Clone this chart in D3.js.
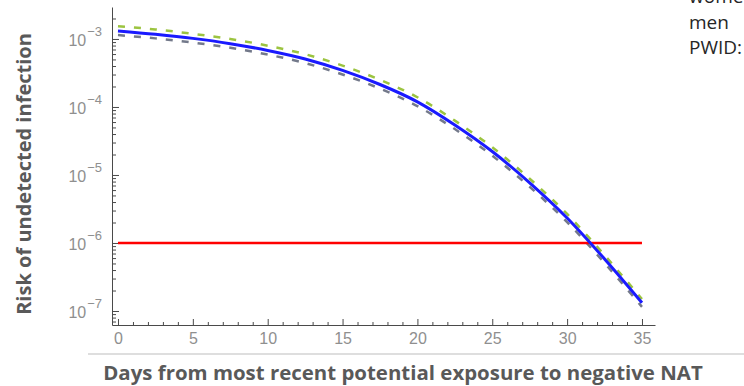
<!DOCTYPE html>
<html>
<head>
<meta charset="utf-8">
<script src="https://cdn.jsdelivr.net/npm/d3@7"></script>
<style>
  html, body { margin: 0; padding: 0; background: #ffffff; }
  svg { display: block; }
</style>
</head>
<body>
<svg id="chart" width="744" height="386"></svg>
<script>
// ---- data ----
const days = [0, 2.5, 5, 7.5, 10, 12.5, 15, 17.5, 20, 22.5, 25, 27.5, 30, 32.5, 35];
const riskMain  = [1.31e-3, 1.17e-3, 1.02e-3, 8.53e-4, 6.78e-4, 5.08e-4, 3.45e-4, 2.14e-4, 1.19e-4, 5.43e-5, 2.21e-5, 7.67e-6, 2.33e-6, 5.82e-7, 1.32e-7];
const riskUpper = [1.54e-3, 1.38e-3, 1.19e-3, 1.00e-3, 7.97e-4, 5.97e-4, 4.05e-4, 2.51e-4, 1.39e-4, 6.30e-5, 2.55e-5, 8.80e-6, 2.67e-6, 6.60e-7, 1.50e-7];
const riskLower = [1.14e-3, 1.02e-3, 8.85e-4, 7.43e-4, 5.90e-4, 4.42e-4, 3.00e-4, 1.86e-4, 1.03e-4, 4.73e-5, 1.92e-5, 6.68e-6, 2.03e-6, 5.07e-7, 1.15e-7];
const thresholdDays = [0, 35];
const thresholdRisk = 1e-6;
const xTickLabels = [0, 5, 10, 15, 20, 25, 30, 35];
const yTickExponents = [-3, -4, -5, -6, -7];
const legendLines = ["women", "men", "PWID:"];
const xTitle = "Days from most recent potential exposure to negative NAT";
const yTitle = "Risk of undetected infection";

// ---- scales ----
const svg = d3.select("#chart");
const x = d3.scaleLinear().domain([-0.4, 35.87]).range([112, 655]);
const y = d3.scaleLog().domain([Math.pow(10, -7.206), Math.pow(10, -2.53)]).range([325, 7]);

const axisColor = "#4a4a4a";
const labelColor = "#8f8f8f";

// ---- x axis ----
const minorX = d3.range(0, 36, 1);
svg.append("g")
  .attr("transform", "translate(0,325)")
  .call(d3.axisBottom(x).tickValues(minorX.filter(d => d % 5 !== 0)).tickSize(-3).tickFormat(""))
  .call(g => g.select(".domain").remove())
  .call(g => g.selectAll(".tick line").attr("stroke", axisColor));

svg.append("g")
  .attr("transform", "translate(0,325)")
  .call(d3.axisBottom(x).tickValues(xTickLabels).tickSize(-6).tickPadding(8).tickSizeOuter(0))
  .call(g => g.select(".domain").attr("stroke", axisColor))
  .call(g => g.selectAll(".tick line").attr("stroke", axisColor))
  .call(g => g.selectAll(".tick text")
      .attr("fill", labelColor)
      .attr("font-family", "'Liberation Sans', Arial, sans-serif")
      .attr("font-size", 16));

// ---- y axis ----
const minorY = [];
for (let e = -8; e <= -3; e++) for (let m = 2; m <= 9; m++) {
  const v = m * Math.pow(10, e);
  if (v >= y.domain()[0] && v <= y.domain()[1]) minorY.push(v);
}
svg.append("g")
  .attr("transform", "translate(112,0)")
  .call(d3.axisLeft(y).tickValues(minorY).tickSize(-4).tickFormat(""))
  .call(g => g.select(".domain").remove())
  .call(g => g.selectAll(".tick line").attr("stroke", axisColor));

const yMajor = yTickExponents.map(e => Math.pow(10, e));
svg.append("g")
  .attr("transform", "translate(112,0)")
  .call(d3.axisLeft(y).tickValues(yMajor).tickSize(-7).tickPadding(10).tickSizeOuter(0))
  .call(g => g.select(".domain").attr("stroke", axisColor))
  .call(g => g.selectAll(".tick line").attr("stroke", axisColor))
  .call(g => g.selectAll(".tick text").each(function(d) {
      const t = d3.select(this);
      const e = Math.round(Math.log10(d));
      t.text(null)
        .attr("fill", labelColor)
        .attr("font-family", "'Liberation Sans', Arial, sans-serif")
        .attr("font-size", 16)
        .attr("dy", "0.4em");
      t.append("tspan").text("10");
      t.append("tspan").attr("font-size", 13).attr("dy", "-0.75em").attr("dx", 1).text("\u2212" + Math.abs(e));
  }));

// ---- series ----
const line = d3.line().x(d => x(d[0])).y(d => y(d[1])).curve(d3.curveMonotoneX);

svg.append("path")
  .datum(days.map((d, i) => [d, riskLower[i]]))
  .attr("d", line).attr("fill", "none")
  .attr("stroke", "#5a6275").attr("stroke-width", 2.5)
  .attr("stroke-dasharray", "7,9").attr("opacity", 0.85);

svg.append("path")
  .datum(days.map((d, i) => [d, riskUpper[i]]))
  .attr("d", line).attr("fill", "none")
  .attr("stroke", "#9cc440").attr("stroke-width", 2.5)
  .attr("stroke-dasharray", "7,9");

svg.append("path")
  .datum(thresholdDays.map(d => [d, thresholdRisk]))
  .attr("d", d3.line().x(d => x(d[0])).y(d => y(d[1])))
  .attr("fill", "none").attr("stroke", "#ff0000").attr("stroke-width", 2.5);

svg.append("path")
  .datum(days.map((d, i) => [d, riskMain[i]]))
  .attr("d", line).attr("fill", "none")
  .attr("stroke", "#1a1aff").attr("stroke-width", 3);

// ---- titles ----
function fitText(sel, width) {
  const w = sel.node().getComputedTextLength();
  const fs = parseFloat(sel.attr("font-size"));
  sel.attr("font-size", fs * width / w);
}

const yT = svg.append("text")
  .attr("transform", "translate(31,174) rotate(-90)")
  .attr("text-anchor", "middle")
  .attr("font-family", "'Open Sans', sans-serif")
  .attr("font-weight", "bold")
  .attr("font-size", 17)
  .attr("fill", "#595959")
  .text(yTitle);
fitText(yT, 282);

svg.append("line")
  .attr("x1", 88).attr("x2", 744).attr("y1", 354).attr("y2", 354)
  .attr("stroke", "#bdbdbd").attr("stroke-width", 1.2);

const xT = svg.append("text")
  .attr("x", 403).attr("y", 380)
  .attr("text-anchor", "middle")
  .attr("font-family", "'Open Sans', sans-serif")
  .attr("font-weight", "bold")
  .attr("font-size", 17)
  .attr("fill", "#595959")
  .text(xTitle);
fitText(xT, 600);

// ---- legend text (first line cut at the top edge, as in the reference) ----
svg.append("g").selectAll("text")
  .data(legendLines)
  .join("text")
  .attr("x", 689)
  .attr("y", (d, i) => 3 + i * 25.5)
  .attr("font-family", "'Open Sans', sans-serif")
  .attr("font-size", 19)
  .attr("fill", "#262626")
  .text(d => d);
</script>
</body>
</html>
